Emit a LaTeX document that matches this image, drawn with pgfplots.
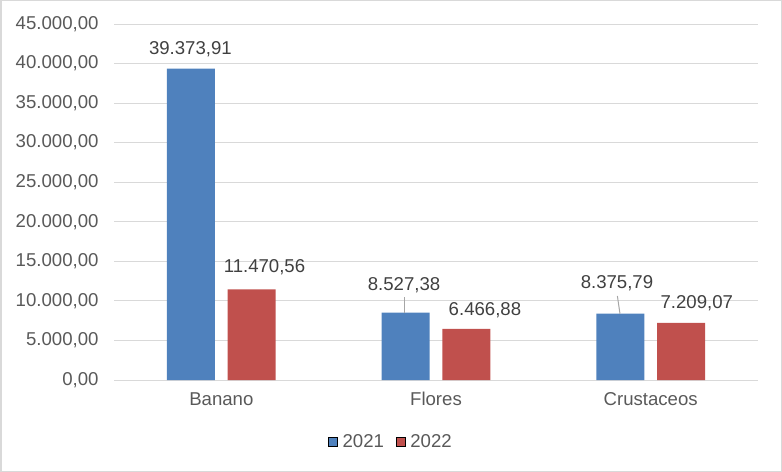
\documentclass[border=0pt]{standalone}
\usepackage{pgfplots}
\pgfplotsset{compat=1.18}
\usepackage{fontspec}
\setmainfont{Liberation Sans}
\definecolor{bblue}{HTML}{4F81BD}
\definecolor{bred}{HTML}{C0504D}
\definecolor{gridc}{HTML}{D9D9D9}
\definecolor{tickc}{HTML}{595959}
\definecolor{labc}{HTML}{404040}
\definecolor{leadc}{HTML}{A6A6A6}
\newcommand{\cf}{\fontsize{18.6bp}{22bp}\selectfont}
\begin{document}
\begin{tikzpicture}
\useasboundingbox (0,0) rectangle (782bp,472bp);
\draw[gridc, line width=1.5bp] (0.75bp,0.75bp) rectangle (781.25bp,471.25bp);
\begin{axis}[
  at={(114bp,92bp)}, anchor=south west,
  scale only axis, width=644bp, height=356bp,
  xmin=-0.5, xmax=2.5, ymin=0, ymax=45000,
  ytick={0,5000,...,45000},
  xtick={0,1,2}, xticklabels={Banano,Flores,Crustaceos},
  ybar, bar width=0.2236,
  axis x line*=bottom, axis y line*=left,
  axis line style={-},
  x axis line style={draw=gridc, line width=1bp},
  y axis line style={draw=none},
  major tick length=0pt,
  ymajorgrids, grid style={gridc, line width=1bp},
  scaled y ticks=false,
  yticklabel style={/pgf/number format/fixed, /pgf/number format/fixed zerofill, /pgf/number format/precision=2, /pgf/number format/1000 sep={.}, /pgf/number format/use comma, /pgf/number format/assume math mode=true, xshift=-12bp},
  ticklabel style={font=\cf, text=tickc},
  xticklabel style={yshift=-9bp},
  clip=false,
  legend style={at={(0.4301,-0.1742)}, anchor=center, draw=none, font=\cf, text=tickc, legend columns=2, cells={anchor=west}, /tikz/every odd column/.append style={column sep=3bp}, /tikz/every even column/.append style={column sep=10bp}},
  legend image code/.code={\draw[#1] (0bp,-4.5bp) rectangle (9bp,4.5bp);},
]
\addplot[fill=bblue, draw=none, bar shift=-0.1416] coordinates {(0,39373.91) (1,8527.38) (2,8375.79)};
\addplot[fill=bred, draw=none, bar shift=0.1416] coordinates {(0,11470.56) (1,6466.88) (2,7209.07)};
\legend{2021,2022}
\draw[leadc, line width=1bp] (axis cs:0.855,10491) -- (axis cs:0.855,8527.38);
\draw[leadc, line width=1bp] (axis cs:1.845,10618) -- (axis cs:1.857,8375.79);
\node[font=\cf, text=labc] at (axis cs:-0.144,41777) {39.373,91};
\node[font=\cf, text=labc] at (axis cs:0.201,14283) {11.470,56};
\node[font=\cf, text=labc] at (axis cs:0.851,12008) {8.527,38};
\node[font=\cf, text=labc] at (axis cs:1.228,8848) {6.466,88};
\node[font=\cf, text=labc] at (axis cs:1.843,12261) {8.375,79};
\node[font=\cf, text=labc] at (axis cs:2.215,9733) {7.209,07};
\end{axis}
\end{tikzpicture}
\end{document}
